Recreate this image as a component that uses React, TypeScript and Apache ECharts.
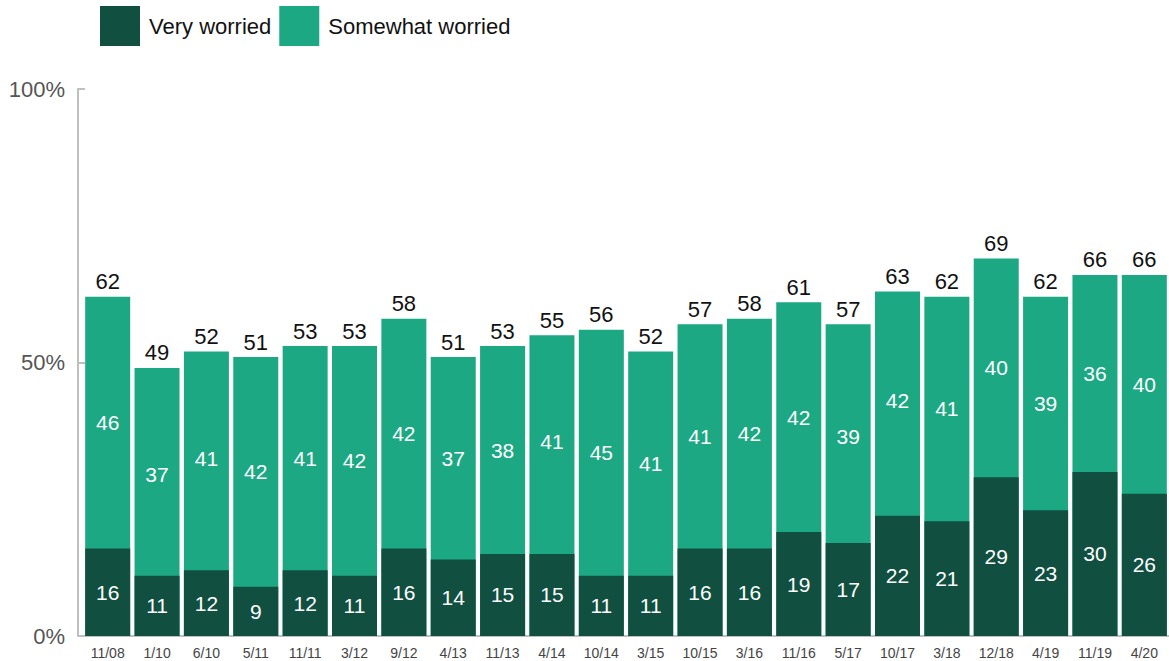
import React, { useEffect, useRef } from "react";
import * as echarts from "echarts";

const categories = ["11/08","1/10","6/10","5/11","11/11","3/12","9/12","4/13","11/13","4/14","10/14","3/15","10/15","3/16","11/16","5/17","10/17","3/18","12/18","4/19","11/19","4/20"];
const veryWorried = [16,11,12,9,12,11,16,14,15,15,11,11,16,16,19,17,22,21,29,23,30,26];
const somewhatWorried = [46,37,41,42,41,42,42,37,38,41,45,41,41,42,42,39,42,41,40,39,36,40];
const totals = [62,49,52,51,53,53,58,51,53,55,56,52,57,58,61,57,63,62,69,62,66,66];
const yTicks = [0, 50, 100];

const DARK = "#114f40";
const LIGHT = "#1ca883";
const FONT = "'Liberation Sans', Arial, sans-serif";

export default function App() {
  const ref = useRef<HTMLDivElement>(null);
  useEffect(() => {
    if (!ref.current) return;
    const chart = echarts.init(ref.current, null, { renderer: "svg" });
    chart.setOption({
      animation: false,
      textStyle: { fontFamily: FONT },
      legend: {
        data: [
          { name: "Very worried", itemStyle: { color: DARK } },
          { name: "Somewhat worried", itemStyle: { color: LIGHT } },
        ],
        left: 100,
        top: 6,
        padding: 0,
        itemWidth: 40,
        itemHeight: 40,
        itemGap: 8,
        icon: "rect",
        textStyle: { fontSize: 22, color: "#111", fontFamily: FONT, padding: [0, 0, 0, 4] },
      },
      grid: { left: 83, right: 0, top: 89, bottom: 25, containLabel: false },
      xAxis: {
        type: "category",
        data: categories,
        axisLine: { show: true, lineStyle: { color: "#bfbfbf", width: 2 } },
        axisTick: { show: false },
        axisLabel: { fontSize: 14, color: "#444", margin: 10, interval: 0, fontFamily: FONT },
      },
      yAxis: {
        type: "value",
        min: yTicks[0],
        max: yTicks[yTicks.length - 1],
        interval: 50,
        offset: 5,
        axisLine: { show: true, lineStyle: { color: "#bfbfbf", width: 2 } },
        axisTick: { show: true, inside: true, length: 7, lineStyle: { color: "#bfbfbf", width: 2 } },
        splitLine: { show: false },
        axisLabel: { fontSize: 22, color: "#555", margin: 13, formatter: "{value}%", fontFamily: FONT },
      },
      series: [
        {
          name: "Total",
          type: "bar",
          data: totals,
          barWidth: 45,
          barGap: "-100%",
          z: 1,
          itemStyle: { color: LIGHT },
          label: { show: true, position: "top", distance: 4, fontSize: 22, color: "#111", fontFamily: FONT },
          emphasis: { disabled: true },
        },
        {
          name: "Very worried",
          type: "bar",
          stack: "s",
          data: veryWorried,
          barWidth: 45,
          z: 2,
          itemStyle: { color: DARK },
          label: { show: true, position: "inside", fontSize: 21, color: "#fff", fontFamily: FONT },
          emphasis: { disabled: true },
        },
        {
          name: "Somewhat worried",
          type: "bar",
          stack: "s",
          data: somewhatWorried,
          barWidth: 45,
          z: 3,
          itemStyle: { color: "rgba(0,0,0,0)" },
          label: { show: true, position: "inside", fontSize: 21, color: "#fff", fontFamily: FONT },
          emphasis: { disabled: true },
        },
      ],
    });
    return () => chart.dispose();
  }, []);
  return <div ref={ref} style={{ width: 1169, height: 661, position: "absolute", left: 0, top: 0 }} />;
}
